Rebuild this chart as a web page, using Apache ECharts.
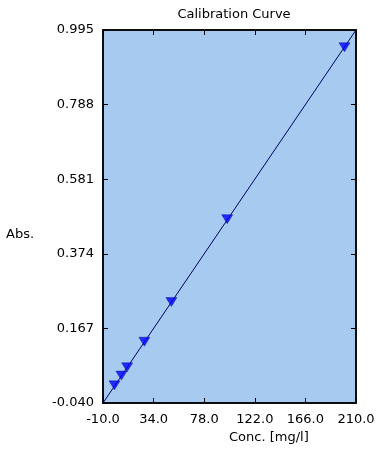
<!DOCTYPE html>
<html>
<head>
<meta charset="utf-8">
<script src="https://cdn.jsdelivr.net/npm/echarts@6/dist/echarts.min.js"></script>
<style>
html,body{margin:0;padding:0;background:#fff;}
#chart{width:388px;height:456px;}
</style>
</head>
<body>
<div id="chart"></div>
<script>
const chartTitle = 'Calibration Curve';
const xAxisName = 'Conc. [mg/l]';
const yAxisName = 'Abs.';
const xTicks = [-10.0, 34.0, 78.0, 122.0, 166.0, 210.0];
const yTicks = [-0.040, 0.167, 0.374, 0.581, 0.788, 0.995];
const stdConc = [0, 6, 11, 26, 49.5, 98, 200];
const stdAbs = [0.009, 0.036, 0.059, 0.130, 0.240, 0.470, 0.947];
const fitConc = [-10, 210];
const fitAbs = [-0.040, 0.995];

const xMin = xTicks[0], xMax = xTicks[xTicks.length - 1];
const yMin = yTicks[0], yMax = yTicks[yTicks.length - 1];
const xInt = xTicks[1] - xTicks[0];
const yInt = yTicks[1] - yTicks[0];
const font = 'DejaVu Sans, sans-serif';

const chart = echarts.init(document.getElementById('chart'), null, {renderer: 'canvas'});

function xAx(pos, showLabels) {
  return {
    type: 'value', position: pos, min: xMin, max: xMax, interval: xInt,
    axisLine: {show: true, onZero: false, lineStyle: {color: '#000', width: 1.5}},
    axisTick: {show: true, inside: true, length: 5, lineStyle: {color: '#000', width: 1}},
    axisLabel: {show: showLabels, color: '#000', fontSize: 13, fontFamily: font, margin: 10,
      formatter: v => v.toFixed(1), showMinLabel: true, showMaxLabel: true},
    splitLine: {show: false}
  };
}
function yAx(pos, showLabels) {
  return {
    type: 'value', position: pos, min: yMin, max: yMax, interval: yInt,
    axisLine: {show: true, onZero: false, lineStyle: {color: '#000', width: 1.5}},
    axisTick: {show: true, inside: true, length: 5, lineStyle: {color: '#000', width: 1}},
    axisLabel: {show: showLabels, color: '#000', fontSize: 13, fontFamily: font, margin: 9,
      formatter: v => v.toFixed(3), showMinLabel: true, showMaxLabel: true},
    splitLine: {show: false}
  };
}

chart.setOption({
  animation: false,
  backgroundColor: '#fff',
  title: {
    text: chartTitle, left: 229, top: 3, textAlign: 'center',
    textStyle: {color: '#000', fontSize: 13, fontWeight: 'normal', fontFamily: font}
  },
  grid: {left: 103, right: 32, top: 30, bottom: 53, show: true,
    backgroundColor: '#a6caf0', borderColor: '#000', borderWidth: 1.5},
  xAxis: [xAx('bottom', true), xAx('top', false)],
  yAxis: [yAx('left', true), yAx('right', false)],
  graphic: [
    {type: 'text', left: 6, top: 228, style: {text: yAxisName, fill: '#000', fontSize: 13, fontFamily: font}},
    {type: 'text', left: 229, top: 431, style: {text: xAxisName, fill: '#000', fontSize: 13, fontFamily: font, align: 'center'}}
  ],
  series: [
    {
      type: 'line', xAxisIndex: 0, yAxisIndex: 0,
      data: fitConc.map((c, i) => [c, fitAbs[i]]),
      showSymbol: false, symbol: 'none',
      lineStyle: {color: '#000060', width: 1}, z: 2
    },
    {
      type: 'scatter', xAxisIndex: 0, yAxisIndex: 0,
      data: stdConc.map((c, i) => [c, stdAbs[i]]),
      symbol: 'triangle', symbolRotate: 180, symbolSize: [11, 9],
      itemStyle: {color: '#0000ff', borderColor: '#000080', borderWidth: 0.5}, z: 3
    }
  ]
});
</script>
</body>
</html>
